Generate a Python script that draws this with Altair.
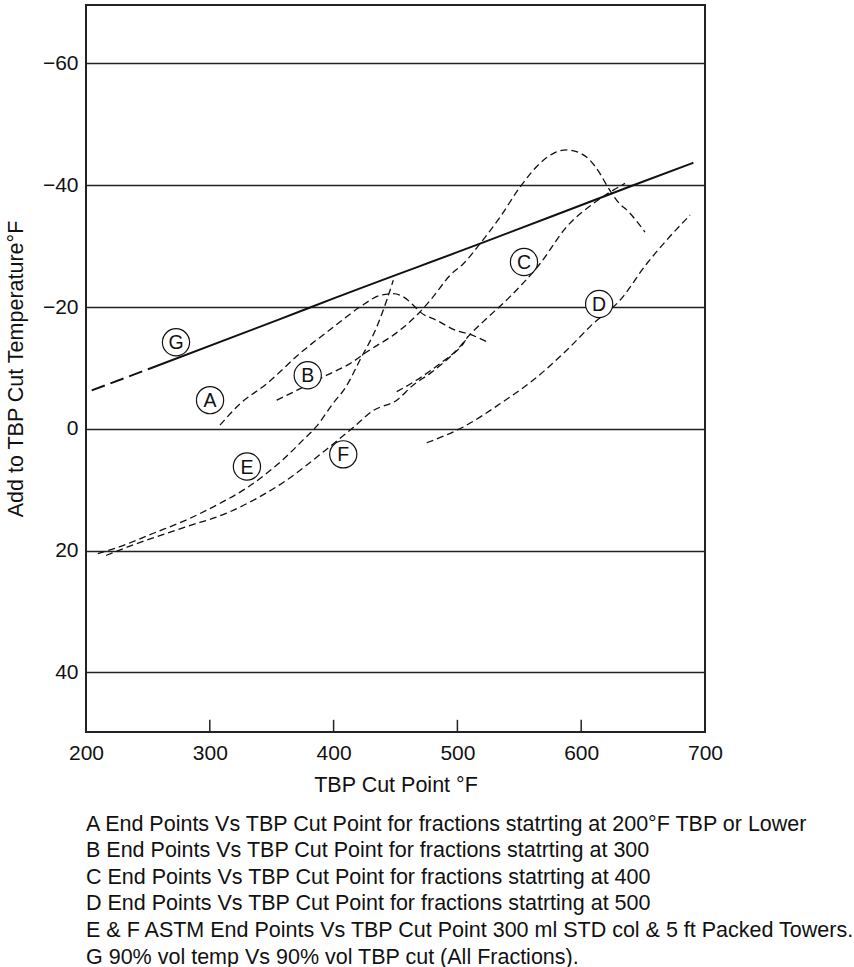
import altair as alt
import pandas as pd

# ---- data ----
A_x = [308.2, 324.4, 346.0, 372.9, 399.8, 421.3, 437.5, 448.0, 456.1, 464.4, 469.8, 483.3, 499.4, 510.2, 523.7]
A_y = [-0.6, -4.1, -7.4, -12.4, -16.7, -20.0, -21.9, -22.2, -21.7, -20.3, -19.2, -17.8, -16.1, -15.5, -14.3]

B_x = [354.0, 370.2, 394.4, 413.2, 426.7, 453.6, 468.4, 480.5, 494.0, 504.8, 518.3, 534.6, 550.6, 566.7, 577.2, 588.3, 599.0, 607.1, 615.2, 620.6, 628.7, 639.4, 651.5]
B_y = [-4.7, -6.3, -8.8, -10.7, -12.6, -16.2, -18.9, -21.7, -25.2, -27.1, -30.4, -34.8, -39.7, -43.6, -45.2, -45.8, -45.3, -44.1, -41.9, -40.0, -37.5, -35.4, -32.3]

C_x = [451.0, 467.1, 486.0, 499.4, 510.2, 520.9, 542.5, 566.7, 588.3, 609.8, 625.9, 635.4]
C_y = [-6.1, -8.0, -10.7, -12.9, -15.5, -17.6, -21.7, -27.1, -33.2, -37.0, -39.2, -40.3]

D_x = [475.2, 504.8, 534.4, 561.3, 588.3, 609.8, 631.3, 652.9, 669.1, 687.9]
D_y = [2.3, -0.3, -4.1, -8.0, -12.9, -17.3, -21.1, -27.1, -31.0, -35.1]

E_x = [209.5, 226.9, 253.9, 280.8, 307.7, 329.2, 345.4, 361.6, 375.0, 385.8, 399.3, 410.0, 421.3, 434.8, 442.9, 448.2]
E_y = [20.5, 19.4, 17.2, 15.0, 12.3, 9.8, 7.4, 4.6, 1.9, -0.3, -4.1, -6.9, -11.3, -16.7, -21.1, -24.4]

F_x = [216.2, 240.4, 280.8, 313.1, 340.0, 361.6, 383.1, 396.5, 414.6, 432.1, 451.0, 464.4, 477.9, 494.0, 504.8, 508.6]
F_y = [20.8, 18.9, 16.1, 13.9, 11.2, 8.5, 5.2, 3.0, 0.0, -3.0, -4.7, -7.2, -9.1, -11.8, -14.0, -15.2]

G_dash_x = [204.6, 251.7]
G_dash_y = [-6.3, -9.9]
G_x = [251.7, 356.7, 401.1, 518.3, 642.1, 690.6]
G_y = [-9.9, -18.0, -21.5, -30.4, -40.0, -43.7]

label_text = ["A", "B", "C", "D", "E", "F", "G"]
label_x = [300.2, 379.1, 553.8, 614.5, 330.0, 407.8, 272.7]
label_y = [-4.7, -8.8, -27.4, -20.5, 6.2, 4.2, -14.2]

x_ticks = [200, 300, 400, 500, 600, 700]
y_ticks = [-60, -40, -20, 0, 20, 40]
inner_tick_x = [300, 400, 500, 600]

notes = [
    "A End Points Vs TBP Cut Point for fractions statrting at 200°F TBP or Lower",
    "B End Points Vs TBP Cut Point for fractions statrting at 300",
    "C End Points Vs TBP Cut Point for fractions statrting at 400",
    "D End Points Vs TBP Cut Point for fractions statrting at 500",
    "E & F ASTM End Points Vs TBP Cut Point 300 ml STD col & 5 ft Packed Towers.",
    "G 90% vol temp Vs 90% vol TBP cut (All Fractions).",
]

# ---- tables ----
rows = []
for name, xs, ys in [("A", A_x, A_y), ("B", B_x, B_y), ("C", C_x, C_y),
                     ("D", D_x, D_y), ("E", E_x, E_y), ("F", F_x, F_y)]:
    for i, (a, b) in enumerate(zip(xs, ys)):
        rows.append({"curve": name, "x": a, "y": b, "o": i})
dashed = pd.DataFrame(rows)
g_solid = pd.DataFrame({"x": G_x, "y": G_y})
g_dash = pd.DataFrame({"x": G_dash_x, "y": G_dash_y})
labels = pd.DataFrame({"t": label_text, "x": label_x, "y": label_y})
Y_MIN, Y_MAX = -69.6, 49.8
ticks = pd.DataFrame({"x": inner_tick_x, "y": [Y_MAX] * 4, "y2": [Y_MAX - 2.0] * 4})

FONT = "Liberation Sans"
FS = 21.5

X = alt.X("x:Q", scale=alt.Scale(domain=[200, 700], nice=False, zero=False),
          axis=alt.Axis(values=x_ticks, title="TBP Cut Point °F", grid=False,
                        ticks=False, tickSize=0, domain=False, format="d",
                        labelFontSize=21, titleFontSize=FS, labelPadding=10,
                        titlePadding=11, labelColor="#111", titleColor="#111",
                        titleFontWeight="normal", labelFlush=False))
Y = alt.Y("y:Q", scale=alt.Scale(domain=[Y_MIN, Y_MAX], reverse=True, nice=False, zero=False),
          axis=alt.Axis(values=y_ticks, title="Add to TBP Cut Temperature°F", grid=True,
                        gridColor="#222", gridWidth=1.5, gridOpacity=1,
                        ticks=False, tickSize=0, domain=False, format="d",
                        labelFontSize=21, titleFontSize=FS, labelPadding=8,
                        titlePadding=15, labelColor="#111", titleColor="#111",
                        titleFontWeight="normal"))

dash_lines = alt.Chart(dashed).mark_line(
    color="#111", strokeWidth=1.3, strokeDash=[7, 4], interpolate="monotone"
).encode(x=X, y=Y, detail="curve:N", order="o:Q")

g_line = alt.Chart(g_solid).mark_line(
    color="#111", strokeWidth=2, interpolate="monotone"
).encode(x=X, y=Y)

g_dash_line = alt.Chart(g_dash).mark_line(
    color="#111", strokeWidth=2, strokeDash=[14, 6]
).encode(x=X, y=Y)

tick_rules = alt.Chart(ticks).mark_rule(color="#222", strokeWidth=1.5).encode(
    x=X, y=Y, y2="y2:Q")

circles = alt.Chart(labels).mark_point(
    shape="circle", size=740, filled=True, fill="white", stroke="#111",
    strokeWidth=1.2, opacity=1
).encode(x=X, y=Y)

letters = alt.Chart(labels).mark_text(
    fontSize=19.5, font=FONT, color="#111", baseline="middle", align="center", dy=1
).encode(x=X, y=Y, text="t:N")

chart = alt.layer(tick_rules, dash_lines, g_dash_line, g_line, circles, letters).properties(
    width=619, height=727,
    autosize=alt.AutoSizeParams(type="none"),
    padding={"left": 86, "top": 5, "right": 149, "bottom": 235},
    title=alt.TitleParams(text=notes, orient="bottom", anchor="start", frame="group",
                          fontSize=FS, font=FONT, fontWeight="normal", color="#111",
                          lineHeight=26.6, offset=18),
).configure(font=FONT).configure_view(stroke="#222", strokeWidth=2)

chart.save("out.html", embed_options={"renderer": "svg", "actions": False})
